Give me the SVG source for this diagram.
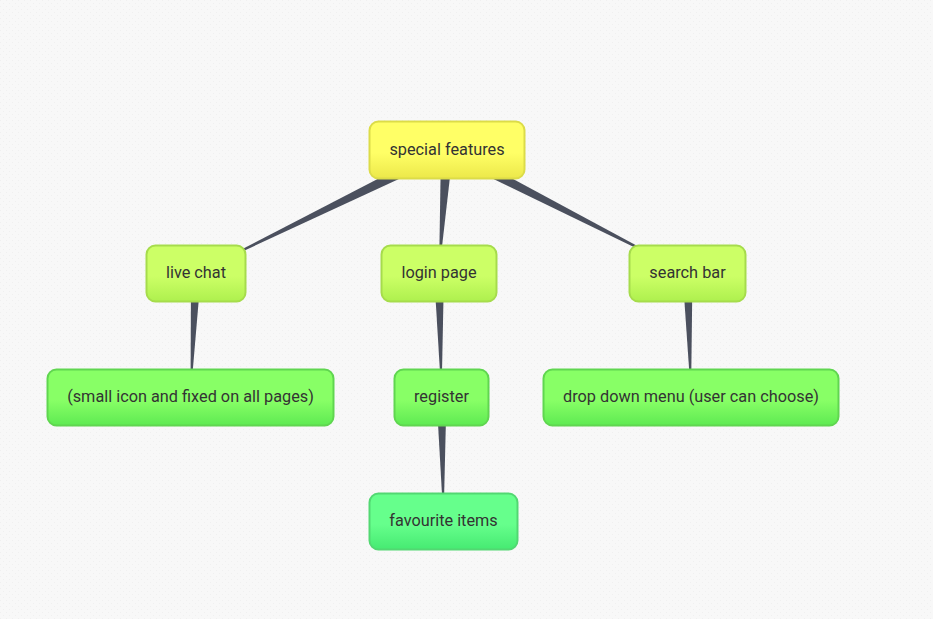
<svg xmlns="http://www.w3.org/2000/svg" width="933" height="619" viewBox="0 0 933 619">
<defs>
<pattern id="bg" width="6" height="6" patternUnits="userSpaceOnUse">
<rect width="6" height="6" fill="#f8f8f8"/>
<rect x="0" y="0" width="1" height="1" fill="#f0f0f0"/>
<rect x="3" y="3" width="1" height="1" fill="#f0f0f0"/>
</pattern>
<linearGradient id="gY" x1="0" y1="0" x2="0" y2="1"><stop offset="0" stop-color="#ffff66"/><stop offset="0.55" stop-color="#ffff66"/><stop offset="1" stop-color="#ece84a"/></linearGradient>
<linearGradient id="gL1" x1="0" y1="0" x2="0" y2="1"><stop offset="0" stop-color="#ccff66"/><stop offset="0.55" stop-color="#ccff66"/><stop offset="1" stop-color="#aef04e"/></linearGradient>
<linearGradient id="gL2" x1="0" y1="0" x2="0" y2="1"><stop offset="0" stop-color="#88ff66"/><stop offset="0.55" stop-color="#88ff66"/><stop offset="1" stop-color="#5eea52"/></linearGradient>
<linearGradient id="gL3" x1="0" y1="0" x2="0" y2="1"><stop offset="0" stop-color="#66ff8c"/><stop offset="0.55" stop-color="#66ff8c"/><stop offset="1" stop-color="#46ea72"/></linearGradient>
</defs>
<style>
.n rect{stroke-width:2}
.root rect{fill:url(#gY);stroke:#dcdc48}
.l1 rect{fill:url(#gL1);stroke:#a6dc4c}
.l2 rect{fill:url(#gL2);stroke:#60d650}
.l3 rect{fill:url(#gL3);stroke:#52d872}
.n text{font-family:Roboto,"Liberation Sans",sans-serif;font-size:16.3px;fill:#333333;text-anchor:middle}
.c{fill:#4b505e}
</style>
<rect width="933" height="619" fill="url(#bg)"/>
<g id="connectors">
<polygon class="c" points="444.3,144.6 449.7,155.4 196,273"/>
<polygon class="c" points="441,149.6 453,150.4 439,273"/>
<polygon class="c" points="449.6,144.8 444.4,155.2 687.5,273"/>
<polygon class="c" points="191,272.6 201,273.4 190.5,397"/>
<polygon class="c" points="434,273 444,272.8 441.5,397"/>
<polygon class="c" points="436.5,397 446.5,396.8 443.5,521"/>
<polygon class="c" points="682.5,273.2 692.5,272.9 691,397"/>
</g>
<g id="n-special-features" class="n root"><rect x="369.5" y="121.5" width="155" height="57" rx="9"/><text x="447" y="155">special features</text></g>
<g id="n-live-chat" class="n l1"><rect x="146.5" y="245.5" width="99" height="56" rx="9"/><text x="196" y="278">live chat</text></g>
<g id="n-login-page" class="n l1"><rect x="381.5" y="245.5" width="115" height="56" rx="9"/><text x="439" y="278">login page</text></g>
<g id="n-search-bar" class="n l1"><rect x="629.5" y="245.5" width="116" height="56" rx="9"/><text x="687.5" y="278">search bar</text></g>
<g id="n-small-icon" class="n l2"><rect x="47.5" y="369.5" width="286" height="56" rx="9"/><text x="190.5" y="402">(small icon and fixed on all pages)</text></g>
<g id="n-register" class="n l2"><rect x="394.5" y="369.5" width="94" height="56" rx="9"/><text x="441.5" y="402">register</text></g>
<g id="n-drop-down" class="n l2"><rect x="543.5" y="369.5" width="295" height="56" rx="9"/><text x="691" y="402">drop down menu (user can choose)</text></g>
<g id="n-favourite-items" class="n l3"><rect x="369.5" y="493.5" width="148" height="56" rx="9"/><text x="443.5" y="526">favourite items</text></g>
</svg>
